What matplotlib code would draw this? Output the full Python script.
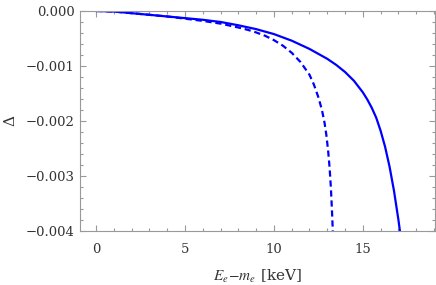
import numpy as np
import matplotlib
matplotlib.use("Agg")
import matplotlib.pyplot as plt
from matplotlib.ticker import MultipleLocator, FuncFormatter

plt.rcParams["font.family"] = ["DejaVu Serif"]
plt.rcParams["mathtext.fontset"] = "stix"

# solid curve
e_solid = [0, 1, 2, 3, 4, 5, 6, 7, 8, 9, 10, 11, 12, 13, 13.5, 14, 14.5, 15,
           15.25, 15.5, 15.75, 16, 16.25, 16.5, 16.75, 17, 17.1]
d_solid = [0, -0.00001, -0.00004, -0.00007, -0.0001, -0.00013, -0.00016,
           -0.0002, -0.00026, -0.00033, -0.00042, -0.00054, -0.00069, -0.00087,
           -0.00098, -0.00111, -0.00127, -0.00148, -0.00161, -0.00176, -0.00194,
           -0.00218, -0.00247, -0.00283, -0.00327, -0.0038, -0.00404]

# dashed curve
e_dash = [0, 1, 2, 3, 4, 5, 6, 7, 8, 8.5, 9, 9.5, 10, 10.5, 11, 11.5, 12, 12.25,
          12.5, 12.7, 12.85, 12.95, 13.05, 13.13, 13.2, 13.26, 13.31]
d_dash = [0, -0.00001, -0.00004, -0.00007, -0.0001, -0.00014, -0.00018,
          -0.00023, -0.0003, -0.00034, -0.00039, -0.00045, -0.00053, -0.00063,
          -0.00076, -0.00093, -0.00116, -0.00134, -0.00157, -0.0018, -0.00204,
          -0.00226, -0.00255, -0.00285, -0.0032, -0.0036, -0.004]

fig = plt.figure(figsize=(4.36, 2.85), dpi=100)
ax = fig.add_axes([0.1835, 0.1895, 0.814, 0.772])

ax.plot(e_solid, d_solid, color="#0000ff", lw=1.6)
ax.plot(e_dash, d_dash, color="#0000ff", lw=1.6, dashes=(2.8, 1.7))

ax.set_xlim(-0.9, 19.05)
ax.set_ylim(-0.004, 0)

ax.xaxis.set_major_locator(MultipleLocator(5))
ax.xaxis.set_minor_locator(MultipleLocator(1))
ax.yaxis.set_major_locator(MultipleLocator(0.001))
ax.yaxis.set_minor_locator(MultipleLocator(0.0002))


def fmt(v, pos):
    s = "%.3f" % abs(v)
    return "\u2212" + s if v < -1e-12 else s


ax.yaxis.set_major_formatter(FuncFormatter(fmt))

ax.tick_params(which="both", direction="in", top=True, right=True,
               color="#999999", labelsize=9.5, labelcolor="#333333", width=0.8)
ax.tick_params(which="major", length=4)
ax.tick_params(axis="x", which="major", pad=9)
ax.tick_params(axis="y", which="major", pad=4)
ax.tick_params(which="minor", length=2)
for s in ax.spines.values():
    s.set_color("#999999")
    s.set_linewidth(0.8)

ax.set_xlabel(r"$E_e\!-\!m_e$ [keV]", fontsize=11, color="#333333", labelpad=8)
ax.set_ylabel("\u0394", fontsize=11, color="#333333", labelpad=6)

fig.savefig("out.png", dpi=100)
